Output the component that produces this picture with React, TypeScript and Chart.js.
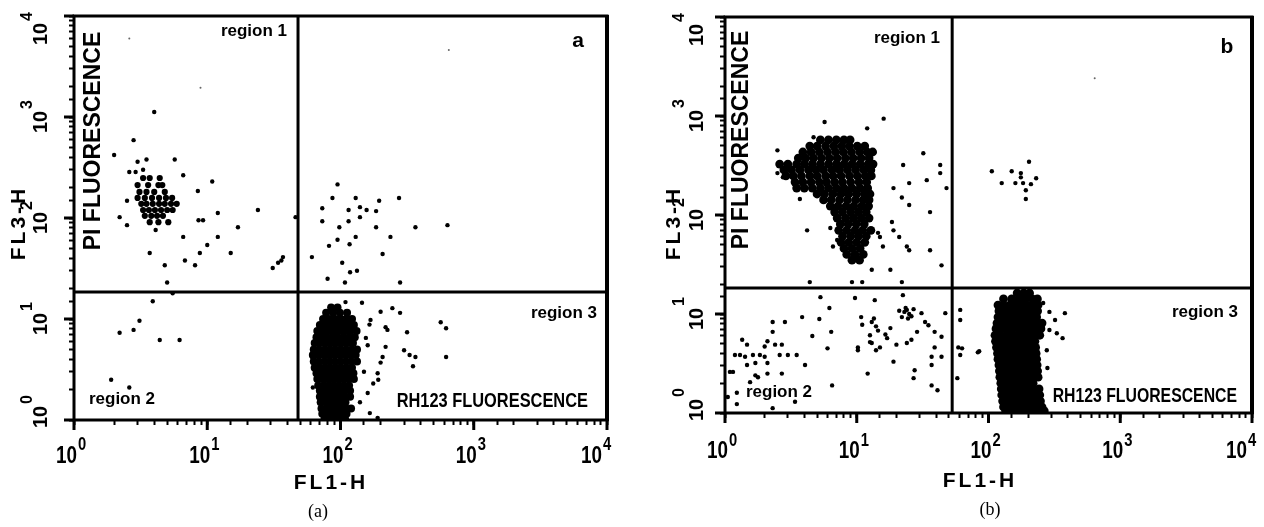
import React, { useEffect, useRef } from 'react';
import { Chart, registerables } from 'chart.js';

Chart.register(...registerables);

type Pt = [number, number];
type Row = [number, number[]];

// ---------- shared axis data ----------
const decadeValues = [1, 10, 100, 1000, 10000];
const tickBase = '10';
const tickExponents = ['0', '1', '2', '3', '4'];
const xAxisTitle = 'FL1-H';
const yAxisTitle = 'FL3-H';

// ---------- panel (a) ----------
const gateA_FL1 = 48;
const gateA_FL3 = 18.5;

const blobA_region3: Row[] = [
  [13, [85, 95]],
  [11.5, [78, 88, 99, 112]],
  [10, [74, 82, 91, 100, 110, 122]],
  [8.7, [70, 77, 85, 94, 103, 114, 126]],
  [7.6, [67, 74, 81, 89, 98, 108, 119, 132]],
  [6.6, [66, 72, 79, 87, 95, 105, 116, 128]],
  [5.8, [64, 70, 77, 85, 93, 102, 112, 124]],
  [5.0, [63, 69, 76, 83, 91, 100, 110, 121, 133]],
  [4.4, [62, 68, 75, 82, 90, 99, 108, 119, 130]],
  [3.8, [63, 69, 76, 83, 91, 100, 110, 121, 133]],
  [3.3, [64, 70, 77, 84, 92, 101, 111, 122]],
  [2.9, [66, 72, 79, 86, 94, 103, 113, 125]],
  [2.55, [67, 73, 80, 88, 96, 105, 115, 126]],
  [2.2, [68, 75, 82, 89, 97, 106, 116]],
  [1.95, [70, 76, 83, 90, 98, 107, 118]],
  [1.7, [70, 77, 84, 91, 99, 108, 118]],
  [1.5, [71, 78, 85, 92, 100, 109]],
  [1.3, [72, 79, 86, 93, 101, 110, 120]],
  [1.15, [73, 80, 87, 94, 102, 111]],
  [1.04, [76, 84, 92, 100, 108]],
];

const clusterA_region1: Row[] = [
  [249, [3.3, 3.7, 4.4]],
  [212, [3.0, 3.6, 4.3, 4.6]],
  [181, [3.1, 3.5, 4.0, 4.8]],
  [158, [3.0, 3.4, 3.85, 4.35, 4.9, 5.45]],
  [138, [3.2, 3.5, 3.9, 4.35, 4.8, 5.35, 5.9]],
  [120, [3.3, 3.65, 4.05, 4.5, 5.0, 5.5]],
  [105, [3.4, 3.8, 4.2, 4.65]],
  [91, [3.7, 4.3, 5.1]],
];

const eventsA_region1: Pt[] = [
  [4.0, 1120], [2.8, 590], [2.0, 420], [3.0, 360], [3.5, 380], [5.7, 380],
  [2.6, 285], [2.9, 285], [3.3, 300], [6.6, 265], [10.9, 230], [8.5, 185],
  [24, 120], [46, 102], [2.5, 148], [2.2, 102], [2.5, 85], [4.1, 76],
  [8.6, 95], [9.3, 95], [12, 112], [17, 81], [6.6, 65], [12, 65], [10, 54],
  [3.7, 45], [8.8, 45], [15, 45], [37, 41], [4.8, 34], [6.8, 38], [8.1, 34],
  [5.0, 23], [31, 32], [34, 36], [36, 38],
];
const eventsA_region2: Pt[] = [
  [5.5, 18], [3.9, 15], [3.1, 9.6], [2.8, 7.8], [2.2, 7.3], [4.4, 6.2],
  [6.2, 6.2], [1.9, 2.5], [2.6, 2.1],
];
const eventsA_region3: Pt[] = [
  [109, 14.7], [145, 14.5], [84, 11.8], [200, 11.8], [245, 12.8], [280, 11.5],
  [168, 9.8], [218, 8.3], [225, 7.8], [316, 7.4], [565, 9.3], [620, 8.1],
  [218, 5.3], [300, 4.9], [365, 4.2], [330, 4.4], [350, 3.4], [620, 4.2],
  [207, 4.2], [200, 3.7], [190, 2.9], [192, 2.5], [176, 2.3], [160, 1.85],
  [140, 1.5], [166, 1.17], [190, 1.05], [61, 4.2], [62, 2.1], [155, 6.5],
  [160, 5.5], [150, 3.0], [165, 8.8],
];
const eventsA_region4: Pt[] = [
  [95, 215], [87, 158], [130, 158], [195, 148], [275, 158], [73, 125],
  [115, 120], [140, 128], [157, 120], [185, 117], [73, 93], [115, 93],
  [140, 102], [98, 81], [185, 81], [365, 81], [635, 85], [130, 65], [95, 61],
  [237, 65], [82, 53], [117, 55], [61, 41], [207, 44], [103, 36], [118, 29],
  [133, 30], [80, 25], [108, 23], [280, 23],
];
const faintA: Pt[] = [[2.6, 6000], [8.9, 1950], [650, 4600]];

// ---------- panel (b) ----------
const gateB_FL1 = 53;
const gateB_FL3 = 18.3;

const blobB_region1: Row[] = [
  [573, [5.3, 6.1, 7.0, 8.0, 8.9]],
  [497, [4.4, 5.0, 5.8, 6.7, 7.7, 8.8, 10.1, 11.5]],
  [433, [3.9, 4.5, 5.2, 6.0, 6.9, 7.9, 9.1, 10.5, 12, 13.2]],
  [376, [3.6, 4.1, 4.7, 5.4, 6.2, 7.1, 8.2, 9.4, 10.8, 12.4]],
  [327, [2.6, 3.0, 3.5, 4.0, 4.6, 5.3, 6.1, 7.0, 8.0, 9.2, 10.6, 12.2, 13.3]],
  [285, [2.8, 3.2, 3.7, 4.3, 4.9, 5.6, 6.5, 7.4, 8.5, 9.8, 11.3, 12.8]],
  [248, [2.9, 3.3, 3.8, 4.4, 5.0, 5.8, 6.6, 7.6, 8.8, 10.1, 11.6, 12.9]],
  [215, [3.4, 3.9, 4.5, 5.2, 5.9, 6.8, 7.8, 9.0, 10.4, 11.9]],
  [187, [3.5, 4.0, 4.6, 5.3, 6.1, 7.0, 8.0, 9.2, 10.6, 12.1]],
  [163, [5.0, 5.7, 6.6, 7.6, 8.7, 10.0, 11.5, 12.6]],
  [142, [5.6, 6.4, 7.4, 8.5, 9.8, 11.2, 12.4]],
  [123, [6.3, 7.2, 8.3, 9.5, 10.9, 12.3]],
  [107, [6.8, 7.8, 9.0, 10.3, 11.8]],
  [93, [7.1, 8.2, 9.4, 10.8, 12.4]],
  [81, [7.5, 8.6, 9.9, 11.4]],
  [70, [7.3, 8.4, 9.7, 11.1, 12.8]],
  [61, [7.8, 9.0, 10.3, 11.8]],
  [53, [7.6, 8.7, 10.0, 11.5]],
  [46, [8.0, 9.2, 10.6]],
  [40, [8.4, 9.7, 11.2]],
  [35, [9.2, 10.5]],
];

const blobB_region3: Row[] = [
  [16.3, [165, 185, 205]],
  [14.2, [130, 150, 170, 190, 215, 235]],
  [12.3, [118, 130, 145, 160, 178, 196, 215, 238]],
  [10.7, [120, 133, 147, 162, 178, 196, 215, 236]],
  [9.3, [118, 130, 143, 158, 174, 191, 210, 232]],
  [8.1, [116, 128, 141, 156, 172, 189, 208, 230, 255]],
  [7.1, [114, 126, 139, 153, 169, 186, 205, 226, 250]],
  [6.1, [112, 124, 137, 151, 167, 184, 203, 224, 245]],
  [5.3, [113, 125, 138, 152, 168, 185, 204, 225]],
  [4.6, [115, 127, 140, 154, 170, 187, 206, 228]],
  [4.0, [117, 129, 142, 156, 172, 189, 208, 230]],
  [3.5, [118, 130, 143, 157, 173, 190, 210, 232]],
  [3.05, [120, 132, 145, 159, 175, 192, 212, 234]],
  [2.65, [121, 133, 146, 160, 176, 194, 214, 236]],
  [2.3, [122, 135, 148, 162, 178, 196, 216, 238]],
  [2.0, [124, 137, 150, 164, 180, 198, 218]],
  [1.75, [125, 138, 151, 166, 182, 200, 220, 242]],
  [1.52, [126, 139, 152, 167, 184, 202, 222, 245]],
  [1.32, [128, 141, 155, 170, 187, 205, 225, 248]],
  [1.15, [130, 143, 157, 172, 189, 208, 230, 255]],
  [1.05, [135, 150, 165, 182, 200, 220, 245, 265]],
];

const eventsB_region1: Pt[] = [
  [5.7, 870], [16, 940], [12, 750], [2.5, 450], [4.7, 610], [32, 420],
  [22.5, 320], [43, 320], [43, 265], [2.5, 265], [2.75, 240], [34, 225],
  [25, 210], [19, 187], [48, 187], [22, 150], [3.7, 145], [36, 107], [25, 126],
  [4.2, 70], [6.3, 74], [18.5, 85], [19, 70], [21, 60], [24, 48], [14.5, 66],
  [15, 60], [6.6, 48], [7.1, 56], [15.8, 48], [36, 44], [9.5, 40], [10, 37],
  [13, 28], [18, 28], [25, 44], [44, 31], [4.4, 21], [9.2, 21], [11, 21], [22, 21],
];
const eventsB_region2: Pt[] = [
  [5.3, 14.8], [9.7, 14.5], [13.7, 13.8], [22.4, 15.5], [6.2, 11.5], [3.85, 9.3],
  [5.2, 8.9], [2.85, 8.3], [2.3, 8.3], [2.3, 6.6], [6.4, 6.6], [10.8, 9.3],
  [4.6, 6.0], [1.35, 5.5], [1.47, 4.9], [2.1, 5.3], [2.0, 4.7], [2.4, 4.9],
  [2.7, 4.9], [6.0, 4.5], [10.2, 4.6], [1.19, 3.85], [1.3, 3.85], [1.42, 3.7],
  [1.63, 3.85], [1.84, 3.85], [2.0, 3.7], [2.1, 3.2], [2.6, 3.85], [3.0, 3.85],
  [3.5, 3.85], [4.05, 3.05], [1.47, 3.05], [1.7, 3.2], [1.15, 2.6], [1.7, 2.4],
  [1.78, 2.3], [2.1, 2.5], [2.7, 2.5], [1.55, 2.05], [1.23, 1.6], [6.5, 1.9],
  [12.1, 2.5], [1.23, 1.23], [2.3, 1.12], [3.4, 1.3], [1.09, 2.6], [1.05, 1.45],
  [23, 10.5], [24, 11], [25, 10], [26, 9.5], [22, 9.3], [24.5, 9], [23.5, 11.5],
  [21, 10.8], [27, 11.2], [13, 8.3], [14, 7.5], [14.5, 6.8], [13.5, 9],
  [12.6, 6.1], [13, 5.1], [14, 4.3], [15, 4.6], [12.6, 5.2], [10.2, 4.3],
  [17, 5.7], [20, 4.9], [19, 3.3], [24, 5.1], [26, 5.5], [28.7, 6.6], [33, 8.3],
  [35, 7.7], [31, 10.2], [39, 6.6], [44, 5.9], [47, 10.2], [39, 4.6], [44, 3.7],
  [37, 3.7], [37, 3.05], [27.5, 2.7], [27, 2.25], [37, 1.9], [41, 1.7],
  [11, 7.8], [16.5, 6.2], [18, 7.2],
];
const eventsB_region3: Pt[] = [
  [61, 11], [63, 4.5], [61, 3.85], [85, 4.2], [58, 2.25], [380, 10.2], [320, 8.7],
  [290, 6.9], [330, 6.4], [365, 5.7], [277, 4.3], [280, 2.85], [83, 4.1],
  [260, 12.9], [290, 10.5], [61, 8.7], [59, 4.6],
];
const eventsB_region4: Pt[] = [
  [203, 345], [106, 277], [150, 277], [176, 265], [176, 240], [230, 235],
  [126, 210], [160, 210], [183, 210], [210, 205], [192, 178], [192, 145],
];
const faintB: Pt[] = [[640, 2400]];

// ---------- helpers ----------
const fromRows = (rows: Row[]) => rows.flatMap(([y, xs]) => xs.map((x) => ({ x, y })));
const fromPts = (pts: Pt[]) => pts.map(([x, y]) => ({ x, y }));

type TextItem = {
  t: string; x: number; y: number; font: string;
  align?: CanvasTextAlign; rot?: boolean; sx?: number; ls?: string;
};

function drawText(ctx: CanvasRenderingContext2D, it: TextItem) {
  ctx.save();
  ctx.translate(it.x, it.y);
  if (it.rot) ctx.rotate(-Math.PI / 2);
  ctx.scale(it.sx ?? 1, 1);
  ctx.font = it.font;
  (ctx as any).letterSpacing = it.ls ?? '0px';
  ctx.textAlign = it.align ?? 'left';
  ctx.textBaseline = 'alphabetic';
  ctx.fillStyle = '#000';
  ctx.fillText(it.t, 0, 0);
  ctx.restore();
}

const SANS = '"Liberation Sans", Arial, sans-serif';
const SERIF = '"Liberation Serif", "Times New Roman", serif';

type PanelDef = {
  id: string;
  left: number; width: number; height: number;
  area: { left: number; top: number; right: number; bottom: number };
  dense: { x: number; y: number }[];
  mid: { x: number; y: number }[];
  events: { x: number; y: number }[];
  faint: { x: number; y: number }[];
  denseRadius: number;
  gateFL1: number; gateFL3: number;
  xLabelBaseline: number; xExpBaseline: number;
  yLabelBaseline: number; yExpBaseline: number;
  texts: TextItem[];
};

function makePlugin(p: PanelDef) {
  return {
    id: 'overlay_' + p.id,
    afterDraw(chart: any) {
      const ctx: CanvasRenderingContext2D = chart.ctx;
      const ca = chart.chartArea;
      const xs = chart.scales.x;
      const ys = chart.scales.y;
      ctx.save();
      // frame
      ctx.strokeStyle = '#000';
      ctx.lineWidth = 3;
      ctx.strokeRect(ca.left, ca.top, ca.right - ca.left, ca.bottom - ca.top);
      ctx.lineWidth = 4;
      ctx.beginPath();
      ctx.moveTo(ca.right, ca.top - 1);
      ctx.lineTo(ca.right, ca.bottom + 1);
      ctx.stroke();
      // major ticks + labels
      decadeValues.forEach((v, i) => {
        const px = xs.getPixelForValue(v);
        ctx.lineWidth = 3;
        ctx.beginPath();
        ctx.moveTo(px, ca.bottom);
        ctx.lineTo(px, ca.bottom + 10);
        ctx.stroke();
        const right = Math.min(px + 3, ca.right - 5);
        drawText(ctx, { t: tickBase, x: right, y: p.xLabelBaseline, font: `bold 23px ${SANS}`, align: 'right', sx: 0.82 });
        drawText(ctx, { t: tickExponents[i], x: right + 1, y: p.xExpBaseline, font: `bold 18px ${SANS}`, align: 'left', sx: 0.82 });

        const py = ys.getPixelForValue(v);
        ctx.lineWidth = 3;
        ctx.beginPath();
        ctx.moveTo(ca.left - 10, py);
        ctx.lineTo(ca.left, py);
        ctx.stroke();
        const cy = Math.min(Math.max(py + 5, ca.top + 18), ca.bottom - 3);
        drawText(ctx, { t: tickBase, x: p.yLabelBaseline, y: cy, font: `bold 20px ${SANS}`, align: 'center', rot: true });
        drawText(ctx, { t: tickExponents[i], x: p.yExpBaseline, y: cy - 13, font: `bold 16px ${SANS}`, align: 'left', rot: true });
      });
      // texts in page coordinates
      ctx.translate(-p.left, 0);
      p.texts.forEach((it) => drawText(ctx, it));
      ctx.restore();
    },
  };
}

function makeConfig(p: PanelDef): any {
  const pt = (data: any[], r: number) => ({
    data, pointRadius: r, pointHoverRadius: r, backgroundColor: '#000', borderWidth: 0, showLine: false,
  });
  const gate = (data: any[]) => ({
    data, showLine: true, borderColor: '#000', borderWidth: 3, pointRadius: 0, fill: false,
  });
  return {
    type: 'scatter',
    data: {
      datasets: [
        pt(p.dense, p.denseRadius),
        pt(p.mid, 3.1),
        pt(p.events, 2.2),
        { ...pt(p.faint, 1), backgroundColor: '#666' },
        gate([{ x: p.gateFL1, y: 1 }, { x: p.gateFL1, y: 10000 }]),
        gate([{ x: 1, y: p.gateFL3 }, { x: 10000, y: p.gateFL3 }]),
      ],
    },
    options: {
      responsive: false,
      animation: false,
      devicePixelRatio: 1,
      events: [],
      layout: {
        autoPadding: false,
        padding: { left: 0, top: p.area.top, right: p.width - p.area.right, bottom: 0 },
      },
      plugins: { legend: { display: false }, tooltip: { enabled: false }, title: { display: false } },
      scales: {
        x: {
          type: 'logarithmic', position: 'bottom', min: 1, max: 10000,
          border: { display: false },
          grid: { drawOnChartArea: false, drawTicks: true, tickLength: 5, tickWidth: 2, tickColor: '#000' },
          ticks: { display: false },
          afterFit: (s: any) => { s.height = p.height - p.area.bottom; },
        },
        y: {
          type: 'logarithmic', position: 'left', min: 1, max: 10000,
          border: { display: false },
          grid: { drawOnChartArea: false, drawTicks: true, tickLength: 5, tickWidth: 2, tickColor: '#000' },
          ticks: { display: false },
          afterFit: (s: any) => { s.width = p.area.left; },
        },
      },
    },
    plugins: [makePlugin(p)],
  };
}

const H = 527;

const panelA: PanelDef = {
  id: 'a', left: 0, width: 640, height: H,
  area: { left: 74, top: 16, right: 607, bottom: 420 },
  dense: fromRows(blobA_region3), denseRadius: 4,
  mid: fromRows(clusterA_region1),
  events: fromPts([...eventsA_region1, ...eventsA_region2, ...eventsA_region3, ...eventsA_region4]),
  faint: fromPts(faintA),
  gateFL1: gateA_FL1, gateFL3: gateA_FL3,
  xLabelBaseline: 463, xExpBaseline: 450,
  yLabelBaseline: 47, yExpBaseline: 32,
  texts: [
    { t: 'region 1', x: 287, y: 36, font: `bold 17px ${SANS}`, align: 'right' },
    { t: 'a', x: 578, y: 47, font: `bold 21px ${SANS}`, align: 'center' },
    { t: 'PI FLUORESCENCE', x: 100, y: 141, font: `bold 23px ${SANS}`, align: 'center', rot: true },
    { t: 'region 2', x: 122, y: 404, font: `bold 17px ${SANS}`, align: 'center' },
    { t: 'region 3', x: 597, y: 318, font: `bold 17px ${SANS}`, align: 'right' },
    { t: 'RH123 FLUORESCENCE', x: 588, y: 407, font: `bold 20px ${SANS}`, align: 'right', sx: 0.82 },
    { t: yAxisTitle, x: 25, y: 223, font: `bold 21px ${SANS}`, align: 'center', rot: true, ls: '3px' },
    { t: xAxisTitle, x: 331, y: 489, font: `bold 21px ${SANS}`, align: 'center', ls: '3px' },
    { t: '(a)', x: 318, y: 517, font: `18px ${SERIF}`, align: 'center' },
  ],
};

const panelB: PanelDef = {
  id: 'b', left: 640, width: 624, height: H,
  area: { left: 85, top: 17, right: 612, bottom: 413 },
  dense: [...fromRows(blobB_region1), ...fromRows(blobB_region3)], denseRadius: 4.4,
  mid: [],
  events: fromPts([...eventsB_region1, ...eventsB_region2, ...eventsB_region3, ...eventsB_region4]),
  faint: fromPts(faintB),
  gateFL1: gateB_FL1, gateFL3: gateB_FL3,
  xLabelBaseline: 458, xExpBaseline: 446,
  yLabelBaseline: 63, yExpBaseline: 44,
  texts: [
    { t: 'region 1', x: 940, y: 43, font: `bold 17px ${SANS}`, align: 'right' },
    { t: 'b', x: 1227, y: 53, font: `bold 21px ${SANS}`, align: 'center' },
    { t: 'PI FLUORESCENCE', x: 748, y: 140, font: `bold 23px ${SANS}`, align: 'center', rot: true },
    { t: 'region 2', x: 779, y: 397, font: `bold 17px ${SANS}`, align: 'center' },
    { t: 'region 3', x: 1238, y: 317, font: `bold 17px ${SANS}`, align: 'right' },
    { t: 'RH123 FLUORESCENCE', x: 1237, y: 402, font: `bold 20px ${SANS}`, align: 'right', sx: 0.79 },
    { t: yAxisTitle, x: 680, y: 223, font: `bold 21px ${SANS}`, align: 'center', rot: true, ls: '3px' },
    { t: xAxisTitle, x: 980, y: 487, font: `bold 21px ${SANS}`, align: 'center', ls: '3px' },
    { t: '(b)', x: 990, y: 515, font: `18px ${SERIF}`, align: 'center' },
  ],
};

function Panel({ def }: { def: PanelDef }) {
  const ref = useRef<HTMLCanvasElement | null>(null);
  useEffect(() => {
    if (!ref.current) return;
    const chart = new Chart(ref.current, makeConfig(def));
    return () => chart.destroy();
  }, [def]);
  return (
    <canvas
      ref={ref}
      width={def.width}
      height={def.height}
      style={{ position: 'absolute', left: def.left, top: 0, width: def.width, height: def.height }}
    />
  );
}

export default function App() {
  return (
    <div style={{ position: 'absolute', left: 0, top: 0, width: 1264, height: H, background: '#fff', overflow: 'hidden' }}>
      <Panel def={panelA} />
      <Panel def={panelB} />
    </div>
  );
}
